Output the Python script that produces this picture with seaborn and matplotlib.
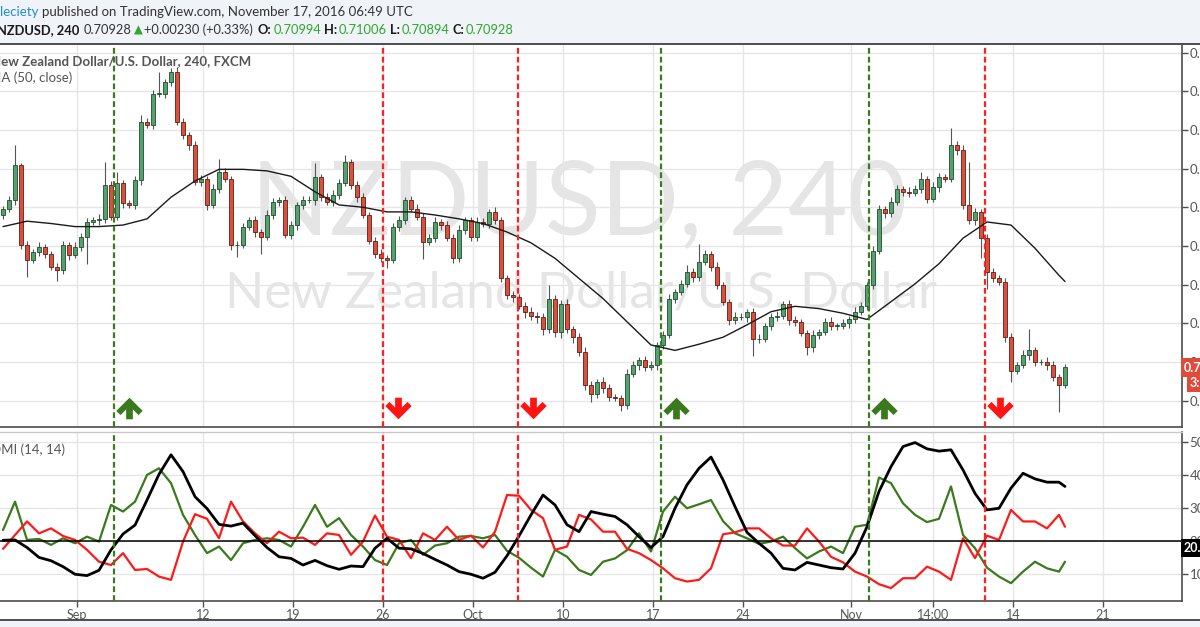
import numpy as np
import matplotlib
matplotlib.use("Agg")
import matplotlib.pyplot as plt
import seaborn as sns
from matplotlib.path import Path
from matplotlib.markers import MarkerStyle
from matplotlib.transforms import blended_transform_factory

# ---------------- data ----------------
# 8-hour bars, time axis in trading days since Mon Sep 5 2016
first_bar_t = -6.11
bars_per_day = 3
first_open = 0.7290
close = [0.7298, 0.7309, 0.7354, 0.7251, 0.7232, 0.7242, 0.7249, 0.7240, 0.7223, 0.7219,
         0.7251, 0.7238, 0.7249, 0.7262, 0.7281, 0.7283, 0.7285, 0.7329, 0.7288, 0.7331,
         0.7305, 0.7303, 0.7335, 0.7410, 0.7406, 0.7447, 0.7447, 0.7462, 0.7475, 0.7410,
         0.7393, 0.7380, 0.7333, 0.7337, 0.7303, 0.7324, 0.7346, 0.7337, 0.7251, 0.7251,
         0.7275, 0.7283, 0.7268, 0.7262, 0.7290, 0.7307, 0.7309, 0.7264, 0.7277, 0.7303,
         0.7309, 0.7309, 0.7339, 0.7313, 0.7307, 0.7316, 0.7331, 0.7359, 0.7329, 0.7313,
         0.7290, 0.7257, 0.7240, 0.7234, 0.7232, 0.7275, 0.7283, 0.7309, 0.7298, 0.7288,
         0.7255, 0.7260, 0.7281, 0.7277, 0.7260, 0.7234, 0.7270, 0.7283, 0.7262, 0.7281,
         0.7279, 0.7294, 0.7283, 0.7208, 0.7186, 0.7184, 0.7173, 0.7165, 0.7160, 0.7158,
         0.7143, 0.7182, 0.7139, 0.7175, 0.7143, 0.7132, 0.7113, 0.7070, 0.7059, 0.7074,
         0.7066, 0.7055, 0.7053, 0.7044, 0.7085, 0.7096, 0.7102, 0.7094, 0.7096, 0.7122,
         0.7135, 0.7182, 0.7191, 0.7201, 0.7216, 0.7210, 0.7229, 0.7240, 0.7223, 0.7199,
         0.7178, 0.7154, 0.7158, 0.7158, 0.7165, 0.7130, 0.7130, 0.7147, 0.7158, 0.7160,
         0.7175, 0.7154, 0.7152, 0.7137, 0.7119, 0.7135, 0.7139, 0.7152, 0.7147, 0.7147,
         0.7150, 0.7156, 0.7165, 0.7173, 0.7199, 0.7244, 0.7298, 0.7292, 0.7307, 0.7324,
         0.7320, 0.7318, 0.7324, 0.7337, 0.7311, 0.7326, 0.7339, 0.7337, 0.7380, 0.7374,
         0.7303, 0.7283, 0.7294, 0.7260, 0.7216, 0.7208, 0.7203, 0.7132, 0.7089, 0.7096,
         0.7109, 0.7115, 0.7100, 0.7100, 0.7096, 0.7081, 0.7070, 0.7093]
upper_wick_pips = [4, 6, 26, 3, 5, 4, 6, 3, 4, 5,
                   5, 4, 6, 5, 5, 4, 6, 30, 5, 15,
                   4, 5, 6, 9, 5, 5, 28, 4, 5, 6,
                   5, 4, 6, 5, 4, 6, 17, 5, 4, 6,
                   5, 4, 6, 4, 7, 5, 4, 6, 5, 4,
                   5, 6, 18, 4, 5, 6, 5, 9, 4, 5,
                   6, 4, 5, 6, 4, 5, 6, 4, 5, 6,
                   4, 5, 6, 4, 5, 6, 7, 5, 4, 6,
                   5, 4, 6, 4, 5, 6, 4, 5, 6, 4,
                   5, 17, 4, 5, 6, 4, 5, 6, 5, 4,
                   6, 5, 4, 5, 6, 5, 4, 6, 5, 4,
                   5, 6, 4, 5, 10, 6, 23, 5, 4, 6,
                   5, 4, 6, 5, 4, 5, 6, 4, 5, 6,
                   4, 5, 6, 4, 5, 6, 4, 5, 6, 4,
                   5, 4, 6, 5, 4, 6, 5, 4, 6, 5,
                   4, 6, 5, 9, 4, 6, 5, 4, 22, 5,
                   6, 56, 5, 4, 6, 5, 4, 6, 5, 4,
                   6, 28, 5, 4, 6, 5, 4, 5]
lower_wick_pips = [5, 4, 6, 5, 22, 4, 5, 6, 4, 14,
                   5, 6, 4, 5, 35, 4, 6, 5, 4, 5,
                   6, 4, 5, 6, 4, 5, 4, 6, 5, 4,
                   5, 6, 4, 5, 6, 4, 5, 4, 6, 15,
                   4, 5, 6, 22, 4, 5, 6, 4, 5, 6,
                   5, 4, 6, 5, 4, 6, 5, 4, 5, 6,
                   4, 5, 6, 5, 11, 4, 6, 5, 4, 5,
                   22, 4, 5, 6, 4, 6, 5, 4, 6, 5,
                   4, 6, 5, 4, 5, 6, 5, 8, 6, 7,
                   8, 6, 7, 8, 6, 8, 5, 6, 11, 5,
                   6, 5, 4, 7, 5, 4, 6, 5, 4, 6,
                   5, 4, 6, 5, 4, 6, 5, 4, 6, 5,
                   4, 6, 5, 4, 6, 22, 5, 4, 6, 5,
                   4, 6, 5, 4, 10, 6, 5, 4, 6, 5,
                   4, 6, 5, 4, 6, 5, 4, 6, 5, 4,
                   6, 5, 4, 6, 5, 4, 6, 5, 4, 6,
                   5, 4, 6, 26, 21, 5, 4, 6, 15, 5,
                   4, 6, 5, 4, 6, 5, 35, 4]

ma_idx = list(range(0, 177, 4)) + [177]
ma50 = [0.7275, 0.7282, 0.7279, 0.7275, 0.7275, 0.7277, 0.7285, 0.7313, 0.7334, 0.7349,
        0.7349, 0.7347, 0.7340, 0.7320, 0.7303, 0.7300, 0.7294, 0.7294, 0.7290, 0.7285,
        0.7279, 0.7268, 0.7254, 0.7234, 0.7208, 0.7182, 0.7152, 0.7122, 0.7115, 0.7123,
        0.7132, 0.7148, 0.7165, 0.7172, 0.7169, 0.7163, 0.7155, 0.7178, 0.7201, 0.7227,
        0.7260, 0.7281, 0.7277, 0.7247, 0.7212, 0.7204]

dmi_idx = list(range(0, 177, 2)) + [177]
adx = [20.2, 20.3, 18.0, 15.0, 14.0, 12.2, 9.9, 9.5, 11.1, 17.3,
       22.1, 24.8, 32.4, 40.2, 46.1, 41.0, 33.4, 29.8, 25.0, 24.5,
       25.4, 21.6, 18.0, 15.2, 14.7, 12.7, 14.1, 12.5, 11.4, 12.4,
       12.2, 17.8, 20.8, 17.8, 17.6, 16.2, 14.4, 12.7, 10.7, 9.9,
       8.7, 10.5, 15.5, 21.5, 27.9, 33.9, 30.9, 24.9, 22.8, 28.9,
       28.1, 27.4, 24.9, 21.3, 18.0, 21.3, 29.9, 37.0, 42.0, 45.4,
       38.5, 30.4, 22.6, 19.3, 16.3, 11.7, 11.2, 13.5, 12.7, 11.9,
       11.5, 16.3, 24.3, 35.0, 42.5, 48.6, 49.8, 47.9, 47.2, 47.6,
       41.5, 34.4, 29.4, 29.9, 36.0, 40.5, 38.8, 37.8, 37.8, 36.5]
plus_di = [23.3, 31.9, 20.3, 20.6, 18.8, 20.8, 19.3, 21.3, 19.8, 30.9,
           28.9, 31.9, 40.0, 42.0, 37.5, 27.9, 21.8, 16.3, 18.3, 14.2,
           19.3, 20.3, 20.8, 20.3, 18.3, 24.3, 30.9, 24.3, 26.9, 21.8,
           18.3, 14.2, 12.7, 19.3, 20.3, 15.8, 18.6, 19.3, 21.3, 21.5,
           20.8, 21.8, 17.0, 14.9, 11.9, 9.2, 17.3, 15.2, 11.2, 9.7,
           13.7, 14.7, 17.2, 22.3, 16.8, 28.9, 33.4, 29.9, 31.1, 32.4,
           26.0, 22.3, 20.8, 19.1, 19.8, 21.3, 17.8, 14.7, 16.8, 18.3,
           16.3, 24.3, 24.9, 39.2, 37.5, 31.4, 27.9, 25.7, 26.7, 36.5,
           21.8, 17.8, 11.9, 9.2, 7.2, 10.7, 13.7, 11.7, 10.7, 13.7]
minus_di = [17.6, 21.8, 25.9, 22.3, 23.8, 21.5, 20.3, 17.3, 13.7, 12.7,
            16.3, 11.2, 11.5, 9.2, 8.2, 19.8, 28.1, 26.7, 20.8, 31.9,
            25.9, 22.3, 19.3, 22.8, 20.8, 21.0, 18.8, 22.3, 21.8, 15.8,
            19.8, 27.7, 21.3, 20.3, 14.8, 22.3, 20.3, 24.3, 20.3, 21.6,
            18.0, 22.8, 33.9, 33.7, 29.4, 26.9, 17.3, 18.3, 27.9, 26.5,
            22.8, 22.8, 17.6, 16.3, 14.2, 11.7, 8.7, 7.7, 8.2, 11.7,
            22.0, 22.6, 23.8, 23.8, 20.8, 18.6, 18.6, 23.8, 19.8, 15.2,
            13.5, 10.7, 9.2, 6.9, 5.7, 8.7, 8.7, 12.2, 10.7, 8.2,
            20.8, 14.8, 21.6, 20.3, 29.4, 25.9, 25.9, 23.8, 27.9, 24.3]
dmi_level = 20

signal_t = [0.05, 15.0, 22.5, 30.45, 42.0, 48.45]
signal_dir = ["up", "down", "down", "up", "up", "down"]

tick_t = [-2, 5, 10, 15, 20, 25, 30, 35, 41, 45.58, 50, 55]
tick_lab = ["Sep", "12", "19", "26", "Oct", "10", "17", "24", "Nov", "14:00", "14", "21"]
price_ticks = [0.705, 0.710, 0.715, 0.720, 0.725, 0.730, 0.735, 0.740, 0.745, 0.750]
dmi_ticks = [10, 20, 30, 40, 50]
last_price = 0.70928

# ---------------- style ----------------
sns.set_theme(style="white")
plt.rcParams["font.family"] = ["Lato", "DejaVu Sans"]

W, H = 1200, 627
fig = plt.figure(figsize=(12, 6.27), dpi=100)
fig.patch.set_facecolor("white")


def fx(px):
    return px / W


def fy(py):
    return 1 - py / H


GREEN_LINE = "#3d7b1f"
RED_LINE = "#ff1f1f"
GRID = "#e6e6e6"
AXC = "#4d4d4d"
TXT = "#555555"

# header + footer backgrounds
fig.patches.append(plt.Rectangle((0, fy(43)), 1, 1 - fy(43), transform=fig.transFigure,
                                 facecolor="#f0f3f7", edgecolor="none", zorder=0))
fig.patches.append(plt.Rectangle((0, 0), 1, fy(620), transform=fig.transFigure,
                                 facecolor="#f0f3f7", edgecolor="none", zorder=0))
fig.add_artist(plt.Line2D([0, 1], [fy(43.5), fy(43.5)], transform=fig.transFigure, color=AXC, lw=1.4))
fig.add_artist(plt.Line2D([0, 1], [fy(620), fy(620)], transform=fig.transFigure, color=AXC, lw=1.4))

ax = fig.add_axes([0, fy(427), fx(1182), fy(44) - fy(427)])
ax2 = fig.add_axes([0, fy(601), fx(1182), fy(432) - fy(601)])

xlim = (-6.278, 59.39)
for a in (ax, ax2):
    a.set_xlim(*xlim)
    a.set_facecolor("white")
    for s in ("left", "top"):
        a.spines[s].set_visible(False)
    a.spines["right"].set_color(AXC)
    a.spines["right"].set_linewidth(1.2)
    a.spines["bottom"].set_color(AXC)
    a.spines["bottom"].set_linewidth(1.2)
    a.yaxis.tick_right()
    a.tick_params(axis="y", which="both", direction="out", length=4, width=1, color=AXC,
                  labelsize=9.5, labelcolor=TXT, pad=1.5)
    for tt in tick_t:
        a.axvline(tt, color=GRID, lw=1, zorder=0)

ax2.spines["top"].set_visible(True)
ax2.spines["top"].set_color("#c8c8c8")
ax2.spines["top"].set_linewidth(1)

# ---------------- main panel ----------------
ax.set_ylim(0.7016, 0.7511)
for p in price_ticks:
    ax.axhline(p, color=GRID, lw=1, zorder=0)
ax.set_yticks(price_ticks)
ax.set_yticklabels([f"{p:.5f}" for p in price_ticks])
ax.set_xticks([])

# watermarks
ax.text(579 / 1182, (427 - 205) / (427 - 44), "NZDUSD, 240",
        transform=ax.transAxes, ha="center", va="center", fontsize=74, color="#e5e5e5", zorder=1)
ax.text(581 / 1182, (427 - 294) / (427 - 44), "New Zealand Dollar/U.S. Dollar",
        transform=ax.transAxes, ha="center", va="center", fontsize=37, color="#e5e5e5", zorder=1)

closes = np.array(close)
opens = np.concatenate([[first_open], closes[:-1]])
t = first_bar_t + np.arange(len(closes)) / bars_per_day
highs = np.maximum(opens, closes) + np.array(upper_wick_pips) * 1e-4
lows = np.minimum(opens, closes) - np.array(lower_wick_pips) * 1e-4
up = closes >= opens
body = np.maximum(np.abs(closes - opens), 0.00003)
bottoms = np.minimum(opens, closes)

ax.vlines(t, lows, highs, color="#555555", lw=0.8, zorder=3)
ax.bar(t[up], body[up], bottom=bottoms[up], width=0.19, color="#55a06c",
       edgecolor="#1e4d2e", linewidth=0.6, zorder=4)
ax.bar(t[~up], body[~up], bottom=bottoms[~up], width=0.19, color="#d8503e",
       edgecolor="#641a10", linewidth=0.6, zorder=4)

sns.lineplot(x=t[ma_idx], y=ma50, ax=ax, color="#1a1a1a", linewidth=1.0,
             estimator=None, sort=False, zorder=5)
ax.set_xlim(*xlim)
ax.set_ylim(0.7016, 0.7511)
ax.set_xlabel("")
ax.set_ylabel("")

# signals: dashed lines and arrows
arrow_level = 0.7041
verts_up = [(0, 0.9), (1.1, -0.2), (0.75, -0.55), (0.28, -0.08), (0.28, -0.9),
            (-0.28, -0.9), (-0.28, -0.08), (-0.75, -0.55), (-1.1, -0.2), (0, 0.9)]
up_marker = MarkerStyle(Path(verts_up, closed=True))
down_marker = MarkerStyle(Path([(x, -y) for x, y in verts_up], closed=True))
for st, d in zip(signal_t, signal_dir):
    c = GREEN_LINE if d == "up" else RED_LINE
    for a in (ax, ax2):
        a.axvline(st, color=c, lw=1.6, ls=(0, (2.6, 1.4)), zorder=6)
    ax.plot([st + 0.85], [arrow_level], ls="none",
            marker=up_marker if d == "up" else down_marker, ms=19,
            color=("#3a7a1c" if d == "up" else "#ff1414"), mew=0, zorder=7)

# price labels
trans_f = blended_transform_factory(fig.transFigure, ax.transData)
ax.text(fx(1184), last_price, "0.70928", transform=trans_f, ha="left", va="center",
        fontsize=9, fontweight="bold", color="white", clip_on=False, zorder=10,
        bbox=dict(boxstyle="square,pad=0.25", fc="#df4a3b", ec="none"))
ax.text(fx(1190), 0.70729, "3:11:00", transform=trans_f, ha="left", va="center",
        fontsize=9, fontweight="bold", color="white", clip_on=False, zorder=10,
        bbox=dict(boxstyle="square,pad=0.25", fc="#df4a3b", ec="none"))

# chart titles
fig.text(fx(-9), fy(61), "New Zealand Dollar/U.S. Dollar, 240, FXCM", fontsize=9.5,
         fontweight="bold", color=TXT, va="center", ha="left")
fig.text(fx(-11), fy(78), "MA (50, close)", fontsize=9.5, color=TXT, va="center", ha="left")

# ---------------- DMI panel ----------------
ax2.set_ylim(1.8, 53.0)
for v in dmi_ticks:
    ax2.axhline(v, color=GRID, lw=1, zorder=0)
dmi_t = t[dmi_idx]
sns.lineplot(x=dmi_t, y=plus_di, ax=ax2, color="#3a7a1c", linewidth=1.6,
             estimator=None, sort=False, zorder=4)
sns.lineplot(x=dmi_t, y=minus_di, ax=ax2, color="#ff1a1a", linewidth=1.6,
             estimator=None, sort=False, zorder=4)
sns.lineplot(x=dmi_t, y=adx, ax=ax2, color="black", linewidth=2.0,
             estimator=None, sort=False, zorder=5)
ax2.axhline(dmi_level, color="black", lw=1.1, zorder=6)
ax2.set_xlim(*xlim)
ax2.set_ylim(1.8, 53.0)
ax2.set_xlabel("")
ax2.set_ylabel("")
ax2.set_yticks(dmi_ticks)
ax2.set_yticklabels([str(v) for v in dmi_ticks])
ax2.set_xticks(tick_t)
ax2.set_xticklabels(tick_lab)
ax2.tick_params(axis="x", direction="out", length=4, width=1, color=AXC,
                labelsize=9, labelcolor=TXT, pad=2, bottom=True)
trans_f2 = blended_transform_factory(fig.transFigure, ax2.transData)
ax2.text(fx(1184), 17.9, "20.0000", transform=trans_f2, ha="left", va="center",
         fontsize=9, fontweight="bold", color="white", clip_on=False, zorder=10,
         bbox=dict(boxstyle="square,pad=0.25", fc="black", ec="none"))
fig.text(fx(-9), fy(450), "DMI (14, 14)", fontsize=9.5, color=TXT, va="center", ha="left")

# ---------------- header (segments chained by measured width) ----------------
fig.canvas.draw()
renderer = fig.canvas.get_renderer()


def chain(x0, y, parts):
    x = x0
    for s, c, w, fs, gap in parts:
        txt = fig.text(fx(x), fy(y), s, fontsize=fs, color=c, fontweight=w,
                       va="center", ha="left")
        bb = txt.get_window_extent(renderer=renderer)
        x = bb.x1 + gap


chain(0, 12, [("leciety", "#1f8dd6", "normal", 9.5, 3.5),
              ("published on TradingView.com, November 17, 2016 06:49 UTC", "#333333", "normal", 9.5, 0)])
HG = "#2ea82e"
chain(-3, 30, [("NZDUSD, 240", "#1a1a1a", "bold", 9.3, 4),
               ("0.70928", "#333333", "normal", 9.3, 2.5),
               ("\u25b2", HG, "normal", 8.3, 1.5),
               ("+0.00230 (+0.33%)", "#333333", "normal", 9.3, 5),
               ("O:", "#1a1a1a", "bold", 9.3, 1.5),
               ("0.70994", HG, "normal", 9.3, 3),
               ("H:", "#1a1a1a", "bold", 9.3, 1.5),
               ("0.71006", HG, "normal", 9.3, 3),
               ("L:", "#1a1a1a", "bold", 9.3, 1.5),
               ("0.70894", HG, "normal", 9.3, 3),
               ("C:", "#1a1a1a", "bold", 9.3, 1.5),
               ("0.70928", HG, "normal", 9.3, 0)])

fig.savefig("out.png", dpi=100, facecolor="white")
